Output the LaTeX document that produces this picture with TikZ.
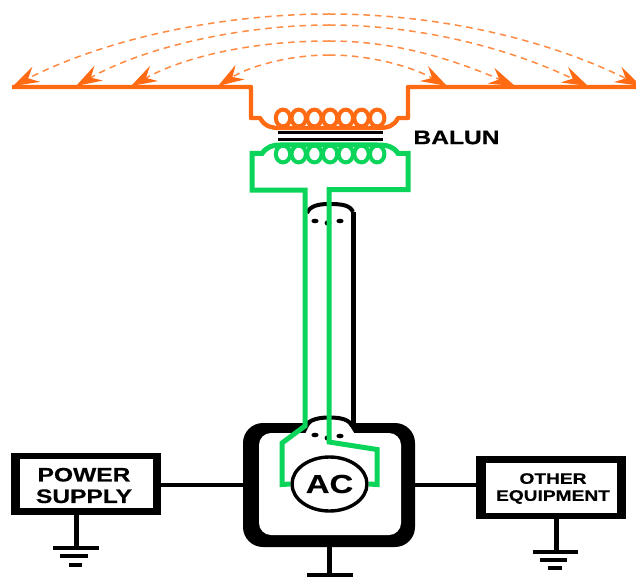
\documentclass[tikz,border=0pt]{standalone}
\usepackage{fontspec}
\setmainfont{Liberation Sans}[FakeStretch=1.26,BoldFeatures={FakeBold=0.5}]
\usetikzlibrary{arrows.meta,shapes.geometric}
\definecolor{orangew}{HTML}{FF6A13}
\definecolor{orangeh}{HTML}{FF8A42}
\definecolor{greenw}{HTML}{0BD45A}
\tikzset{
 x=1pt,y=-1pt,
 wave/.style={draw=orangeh,line width=1.5pt,dash pattern=on 6.5pt off 5pt,
   -{Stealth[length=26pt,width=17pt,inset=9pt,color=orangew,fill=orangew]}},
 owire/.style={draw=orangew,line width=4.4pt,line join=round},
 gwire/.style={draw=greenw,line width=5pt,line join=miter},
 bwire/.style={draw=black,line width=3.8pt},
 gnd/.style={draw=black,line width=4.4pt},
 blackbox/.style={fill=black,inner sep=0pt,outer sep=0pt},
 whitebox/.style={fill=white,inner sep=0pt,outer sep=0pt,align=center},
 lab/.style={font=\bfseries\fontsize{19.5}{21.5}\selectfont},
 labs/.style={font=\bfseries\fontsize{15.2}{17}\selectfont},
}
\begin{document}
\begin{tikzpicture}
\useasboundingbox (0,0) rectangle (636,580);
\fill[white] (0,0) rectangle (636,580);
% radiation arcs
\coordinate (l1) at (13,86); \coordinate (l2) at (76,86); \coordinate (l3) at (131,86); \coordinate (l4) at (218,86);
\coordinate (r1) at (641,86); \coordinate (r2) at (588,86); \coordinate (r3) at (515,86); \coordinate (r4) at (447,86);
\coordinate (top) at (329,14);
\draw[wave] (top) .. controls (240,14) and (120,32) .. (l1);
\draw[wave] (top) .. controls (430,14) and (540,36) .. (r1);
\draw[wave] (329,25) .. controls (250,25) and (150,44) .. (l2);
\draw[wave] (329,25) .. controls (410,25) and (500,44) .. (r2);
\draw[wave] (329,41) .. controls (260,41) and (190,54) .. (l3);
\draw[wave] (329,41) .. controls (390,41) and (445,56) .. (r3);
\draw[wave] (329,55) .. controls (290,55) and (250,66) .. (l4);
\draw[wave] (329,55) .. controls (370,55) and (410,66) .. (r4);
% dipole and balun primary
\draw[owire] (12,87) -- (251,87) -- (251,118) -- (260,118) .. controls (265,127) and (272,128) .. (280,128) -- (378,128) .. controls (388,128) and (394,126) .. (398,118) -- (408,118) -- (408,87) -- (636,87);
\foreach \cx in {283,298.7,...,378}
  \draw[draw=orangew,line width=4pt] (\cx,118) ellipse [x radius=7.2,y radius=8.4];
% core
\draw[bwire,line width=3.4pt] (278,132.5) -- (383,132.5);
\draw[bwire,line width=3.4pt] (278,139.5) -- (383,139.5);
% balun secondary coil
\foreach \cx in {283,298.7,...,378}
  \draw[draw=greenw,line width=4pt] (\cx,154) ellipse [x radius=7.2,y radius=8.4];
% coax
\draw[bwire,line width=5pt] (353,212) -- (353,428);
\draw[bwire,line width=4pt] (307,213) .. controls (310,206) and (318,204) .. (329,204) .. controls (342,204) and (350,205) .. (353,212);
\fill (315,221) ellipse [x radius=3.6,y radius=2.3];
\fill (328,223) ellipse [x radius=3.4,y radius=2.8];
\fill (340,221) ellipse [x radius=3.6,y radius=2.3];
% equipment box
\node[blackbox,rounded corners=20pt,minimum width=172pt,minimum height=124pt] (acbox) at (329,485) {};
\node[whitebox,rounded corners=12pt,minimum width=142pt,minimum height=102pt] (acin) at (330,484) {};
\fill[white] (308,428) .. controls (312,420) and (320,418) .. (329,418) .. controls (340,418) and (348,420) .. (351,428) -- (356,436) -- (304,436) -- cycle;
\draw[bwire,line width=4pt] (305,426) .. controls (310,419) and (320,417.5) .. (329,417.5) .. controls (340,417.5) and (349,419) .. (352,426);
\fill (315,435) ellipse [x radius=3.6,y radius=2.3];
\fill (328,438) ellipse [x radius=3.4,y radius=2.8];
\fill (340,436) ellipse [x radius=3.6,y radius=2.3];
% AC source
\node[ellipse,draw=black,line width=3.4pt,fill=white,minimum width=75pt,minimum height=54pt,inner sep=0pt,font=\bfseries\fontsize{26}{26}\selectfont] (ac) at (329.5,484) {AC};
% green conductors
\draw[gwire] (ac.west) -- (282,484.5) -- (282,443) -- (305,426) -- (305,190) -- (252,190) -- (252,153.5) -- (262,153.5) .. controls (267,147) and (272,145) .. (280,145) -- (378,145) .. controls (388,145) and (394,147) .. (398,153.5) -- (408,153.5) -- (408,189.5) -- (329,189.5) -- (329,442) -- (377,449.5) -- (377,484.5) -- (ac.east);
% power supply
\node[blackbox,minimum width=150pt,minimum height=62pt] (ps) at (86,484) {};
\node[whitebox,lab,minimum width=133pt,minimum height=49pt] (psin) at (86.5,483.5) {};
\node[lab,align=center,inner sep=0pt] (pslab) at (84,485.5) {POWER\\SUPPLY};
% other equipment
\node[blackbox,minimum width=150pt,minimum height=63pt] (oe) at (551,487.5) {};
\node[whitebox,labs,minimum width=131pt,minimum height=50pt] (oein) at (551.5,488) {};
\node[labs,align=center,inner sep=0pt] (oelab) at (553,488.5) {OTHER\\EQUIPMENT};
% balun label
\node[lab,inner sep=0pt] (balun) at (456.5,137.5) {BALUN};
% links
\draw[bwire] (ps.east |- acbox.west) -- (acbox.west);
\draw[bwire] (acbox.east) -- (oe.west |- acbox.east);
% grounds
\coordinate (g1) at (76,548); \coordinate (g2) at (556,552); \coordinate (g3) at (329,575);
\draw[gnd,line width=5pt] (76,515) -- (g1);
\draw[gnd] (53,548) -- (99,548); \draw[gnd] (60,556) -- (88,556); \draw[gnd] (69,565) -- (82,565);
\draw[gnd,line width=5pt] (556,519) -- (g2);
\draw[gnd] (533,552) -- (578,552); \draw[gnd] (540,560) -- (567,560); \draw[gnd] (548,568) -- (562,568);
\draw[gnd,line width=5pt] (acbox.south) -- (g3);
\draw[gnd] (307,575) -- (353,575);
\end{tikzpicture}
\end{document}
